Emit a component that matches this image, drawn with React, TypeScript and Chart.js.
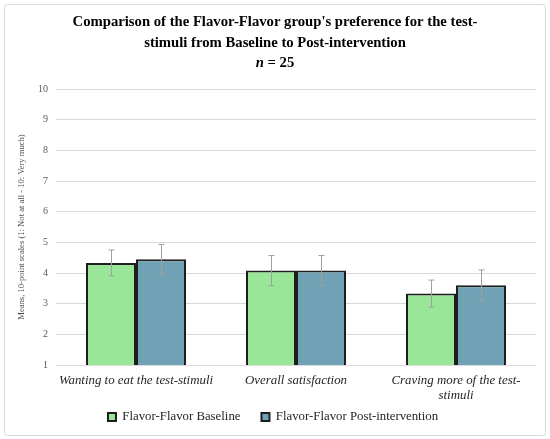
import React, { useEffect, useRef } from "react";
import { Chart, registerables } from "chart.js";

Chart.register(...registerables);

const categories: (string | string[])[] = [
  "Wanting to eat the test-stimuli",
  "Overall satisfaction",
  ["Craving more of the test-", "stimuli"],
];
const seriesNames = ["Flavor-Flavor Baseline", "Flavor-Flavor Post-intervention"];
const baselineMeans = [4.33, 4.08, 3.33];
const baselineErrors = [0.42, 0.49, 0.44];
const postMeans = [4.45, 4.08, 3.6];
const postErrors = [0.48, 0.49, 0.5];
const titleLines = [
  "Comparison of the Flavor-Flavor group's preference for the test-",
  "stimuli from Baseline to Post-intervention",
];
const subtitleItalic = "n";
const subtitleRest = " = 25";
const yAxisTitle = "Means, 10-point scales (1: Not at all - 10: Very much)";
const yMin = 1;
const yMax = 10;

const SERIF = "'Liberation Serif', 'Times New Roman', serif";

const frameAndTitle = {
  id: "frameAndTitle",
  afterLayout(chart: any) {
    // let the two-line category label extend below the axis box without being clipped
    const x = chart.scales.x;
    if (x) x.bottom = x.top + 40;
  },
  beforeDraw(chart: any) {
    const ctx = chart.ctx;
    ctx.save();
    ctx.fillStyle = "#ffffff";
    ctx.fillRect(0, 0, chart.width, chart.height);
    ctx.strokeStyle = "#d9d9d9";
    ctx.lineWidth = 1;
    ctx.beginPath();
    (ctx as any).roundRect(4.5, 4.5, chart.width - 9, chart.height - 8, 3);
    ctx.stroke();
    ctx.restore();
  },
  afterDraw(chart: any) {
    const ctx = chart.ctx;
    const cx = chart.width / 2;
    ctx.save();
    ctx.fillStyle = "#000000";
    ctx.textBaseline = "alphabetic";
    ctx.textAlign = "center";
    ctx.font = `bold 14.7px ${SERIF}`;
    titleLines.forEach((line, i) => {
      ctx.fillText(line, cx, 26 + i * 20.5);
    });
    const boldItalic = `italic bold 14.7px ${SERIF}`;
    const bold = `bold 14.7px ${SERIF}`;
    ctx.font = boldItalic;
    const w1 = ctx.measureText(subtitleItalic).width;
    ctx.font = bold;
    const w2 = ctx.measureText(subtitleRest).width;
    const startX = cx - (w1 + w2) / 2;
    ctx.textAlign = "left";
    ctx.font = boldItalic;
    ctx.fillText(subtitleItalic, startX, 67);
    ctx.font = bold;
    ctx.fillText(subtitleRest, startX + w1, 67);
    ctx.restore();
  },
};

const errorBars = {
  id: "errorBars",
  afterDatasetsDraw(chart: any) {
    const ctx = chart.ctx;
    const yScale = chart.scales.y;
    const errs = [baselineErrors, postErrors];
    ctx.save();
    ctx.strokeStyle = "#a0a0a0";
    ctx.lineWidth = 1;
    chart.data.datasets.forEach((ds: any, di: number) => {
      const meta = chart.getDatasetMeta(di);
      meta.data.forEach((bar: any, i: number) => {
        const v = ds.data[i];
        const e = errs[di][i];
        const x = Math.round(bar.x) + 0.5;
        const yTop = yScale.getPixelForValue(v + e);
        const yBot = yScale.getPixelForValue(v - e);
        ctx.beginPath();
        ctx.moveTo(x, yTop);
        ctx.lineTo(x, yBot);
        ctx.moveTo(x - 3, yTop);
        ctx.lineTo(x + 3, yTop);
        ctx.moveTo(x - 3, yBot);
        ctx.lineTo(x + 3, yBot);
        ctx.stroke();
      });
    });
    ctx.restore();
  },
};

export default function App() {
  const ref = useRef<HTMLCanvasElement | null>(null);
  useEffect(() => {
    if (!ref.current) return;
    const chart = new Chart(ref.current, {
      type: "bar",
      data: {
        labels: categories as any,
        datasets: [
          {
            label: seriesNames[0],
            data: baselineMeans,
            backgroundColor: "#99e699",
            borderColor: "#1e1e1e",
            borderWidth: 2,
            borderSkipped: false,
            categoryPercentage: 0.625,
            barPercentage: 1,
          },
          {
            label: seriesNames[1],
            data: postMeans,
            backgroundColor: "#71a1b4",
            borderColor: "#1e1e1e",
            borderWidth: 2,
            borderSkipped: false,
            categoryPercentage: 0.625,
            barPercentage: 1,
          },
        ],
      },
      options: {
        responsive: false,
        animation: false,
        devicePixelRatio: 1,
        layout: { padding: { top: 89, left: 10, right: 14, bottom: 5.6 } },
        plugins: {
          title: { display: false },
          tooltip: { enabled: false },
          legend: {
            display: true,
            position: "bottom",
            labels: {
              boxWidth: 8,
              boxHeight: 8,
              padding: 21,
              color: "#262626",
              font: { family: SERIF, size: 12.8 },
            },
          },
        },
        scales: {
          x: {
            grid: { display: false, drawTicks: false },
            border: { display: false },
            ticks: {
              padding: 8,
              color: "#262626",
              maxRotation: 0,
              autoSkip: false,
              font: { family: SERIF, size: 12.9, style: "italic", lineHeight: 1.15 },
            },
            afterFit(scale: any) {
              scale.height = 24.6;
            },
          },
          y: {
            min: yMin,
            max: yMax,
            grid: { color: "#d9d9d9", drawTicks: false },
            border: { display: false },
            ticks: {
              stepSize: 1,
              padding: 8,
              color: "#595959",
              font: { family: SERIF, size: 10 },
            },
            title: {
              display: true,
              text: yAxisTitle,
              color: "#4d4d4d",
              font: { family: SERIF, size: 8.6 },
              padding: { top: 7, bottom: 0 },
            },
            afterFit(scale: any) {
              scale.width = 46;
            },
          },
        },
      },
      plugins: [frameAndTitle, errorBars],
    });
    return () => chart.destroy();
  }, []);
  return (
    <div style={{ position: "fixed", left: 0, top: 0, width: 550, height: 439, background: "#fff" }}>
      <canvas ref={ref} width={550} height={439} />
    </div>
  );
}
